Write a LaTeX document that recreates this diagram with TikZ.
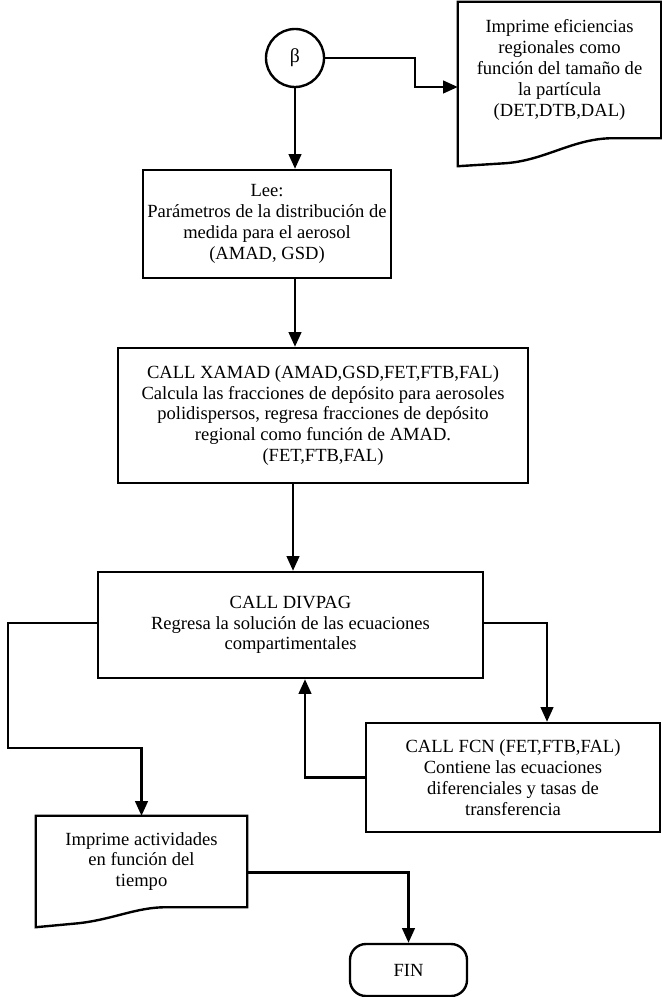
\documentclass[tikz,border=0pt]{standalone}
\usepackage{fontspec}
\setmainfont{Liberation Serif}
\usetikzlibrary{arrows.meta,positioning,calc}
\tikzset{
  blk/.style={draw,rectangle,line width=1.7pt,align=center,font=\fontsize{13.2}{14.8}\selectfont},
  docblk/.style={blk,draw=none},
  endblk/.style={blk,rounded corners=0.4cm},
  conblk/.style={draw,circle,line width=1.7pt,minimum size=1.45cm,inner sep=0pt,font=\fontsize{14}{16}\selectfont},
  docln/.style={line width=1.7pt,line join=miter},
  arr/.style={-{Triangle[width=9pt,length=10.5pt]},line width=1.7pt}
}
\begin{document}
\begin{tikzpicture}[x=0.025cm,y=-0.025cm]
  \useasboundingbox (0,0) rectangle (662,997);

  \node[conblk] (beta) at (295,58) {β};
  \node[docblk, minimum width=5.025cm, minimum height=3.35cm] (effic) at (559.5,70)
    {Imprime eficiencias\\regionales como\\función del tamaño de\\la partícula\\(DET,DTB,DAL)};
  \node[blk, minimum width=6.15cm, minimum height=2.7cm] (lee) at (267,224)
    {Lee:\\Parámetros de la distribución de\\medida para el aerosol\\(AMAD, GSD)};
  \node[blk, minimum width=10.25cm, minimum height=3.375cm] (xamad) at (323,415.5)
    {CALL XAMAD (AMAD,GSD,FET,FTB,FAL)\\Calcula las fracciones de depósito para aerosoles\\polidispersos, regresa fracciones de depósito\\regional como función de AMAD.\\(FET,FTB,FAL)};
  \node[blk, minimum width=9.625cm, minimum height=2.65cm] (divpag) at (290.5,625)
    {CALL DIVPAG\\Regresa la solución de las ecuaciones\\compartimentales};
  \node[blk, minimum width=7.35cm, minimum height=2.725cm] (fcn) at (513,777.5)
    {CALL FCN (FET,FTB,FAL)\\Contiene las ecuaciones\\diferenciales y tasas de\\transferencia};
  \node[docblk, minimum width=5.225cm, minimum height=2.225cm] (actv) at (141.5,861.5)
    {Imprime actividades\\en función del\\tiempo};
  \node[endblk, minimum width=2.925cm, minimum height=1.3cm] (fin) at (408.5,970) {FIN};

  \draw[docln] (effic.south east) -- (effic.north east) -- (effic.north west)
    -- ($(effic.south west)+(0,28)$) -- ++(48,-3)
    .. controls +(40,-3) and +(-40,0) .. ($(effic.south east)+(-48,0)$) -- cycle;
  \draw[docln] (actv.south east) -- (actv.north east) -- (actv.north west)
    -- ($(actv.south west)+(0,20)$) -- ++(43,-4)
    .. controls +(35,-4) and +(-30,0) .. ($(actv.south east)+(-81,0)$) -- cycle;

  \coordinate (bend1) at (415,87);
  \coordinate (lftbend) at (8,748);

  \draw[arr] (beta.east) -| (bend1) -- (bend1 -| effic.west);
  \draw[arr] (beta.south) -- (beta.south |- lee.north);
  \draw[arr] (beta.south |- lee.south) -- (beta.south |- xamad.north);
  \draw[arr] ($(beta.south |- xamad.south)+(-2,0)$) -- ($(beta.south |- divpag.north)+(-2,0)$);
  \draw[arr] ($(divpag.east)+(0,-2)$) -| ($(fcn.north)+(34,0)$);
  \draw[arr] (fcn.west) -| ($(divpag.south)+(14.5,0)$);
  \draw[arr] ($(divpag.west)+(0,-2)$) -| (lftbend) -| (actv.north);
  \draw[arr] ($(actv.east)+(0,11)$) -| (fin.north);
\end{tikzpicture}
\end{document}
